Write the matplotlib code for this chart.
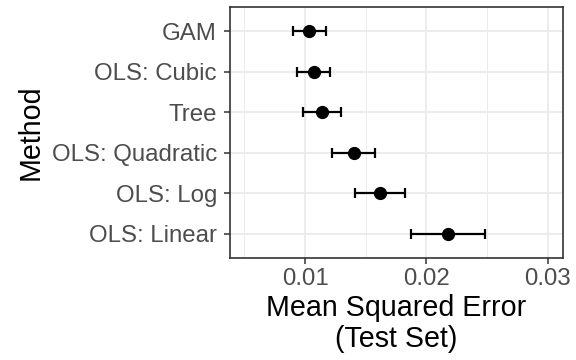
import matplotlib.pyplot as plt
from matplotlib.ticker import MultipleLocator

# data (top to bottom as shown)
methods = ["GAM", "OLS: Cubic", "Tree", "OLS: Quadratic", "OLS: Log", "OLS: Linear"]
mse = [0.01033, 0.01069, 0.01140, 0.01404, 0.01616, 0.02178]
lower = [0.00899, 0.00932, 0.00984, 0.01225, 0.01412, 0.01876]
upper = [0.01174, 0.01207, 0.01294, 0.01580, 0.01825, 0.02486]

plt.rcParams['font.family'] = ['Liberation Sans', 'DejaVu Sans']

fig = plt.figure(figsize=(5.76, 3.6), dpi=100)
ax = fig.add_axes([0.399, 0.283, 0.578, 0.698])

n = len(methods)
ypos = [n - 1 - i for i in range(n)]
xerr = [[m - lo for m, lo in zip(mse, lower)], [hi - m for m, hi in zip(mse, upper)]]

ax.errorbar(mse, ypos, xerr=xerr, fmt='o', color='black', ms=8.5,
            elinewidth=1.6, capsize=3.3, capthick=1.6, zorder=3)

ax.set_xlim(0.00379, 0.03124)
ax.set_ylim(-0.6, n - 0.4)
ax.set_yticks(ypos)
ax.set_yticklabels(methods)
ax.xaxis.set_major_locator(MultipleLocator(0.01))
ax.xaxis.set_minor_locator(MultipleLocator(0.005))
ax.set_xticks([0.01, 0.02, 0.03])
ax.set_xticklabels(["0.01", "0.02", "0.03"])

# theme_bw look
ax.grid(True, which='major', color='#EBEBEB', linewidth=1.3, zorder=0)
ax.grid(True, which='minor', axis='x', color='#EBEBEB', linewidth=0.7, zorder=0)
ax.set_axisbelow(True)
for s in ax.spines.values():
    s.set_color('#333333')
    s.set_linewidth(1.2)
ax.tick_params(which='major', length=4.3, width=1.1, color='#333333',
               labelsize=17.3, labelcolor='#4D4D4D', pad=3)
ax.tick_params(axis='y', pad=5)
ax.tick_params(which='minor', length=0)

ax.set_xlabel("Mean Squared Error\n(Test Set)", fontsize=20.6, linespacing=1.1, labelpad=3)
ax.set_ylabel("Method", fontsize=20.6, labelpad=5)

fig.savefig("out.png", dpi=100)
